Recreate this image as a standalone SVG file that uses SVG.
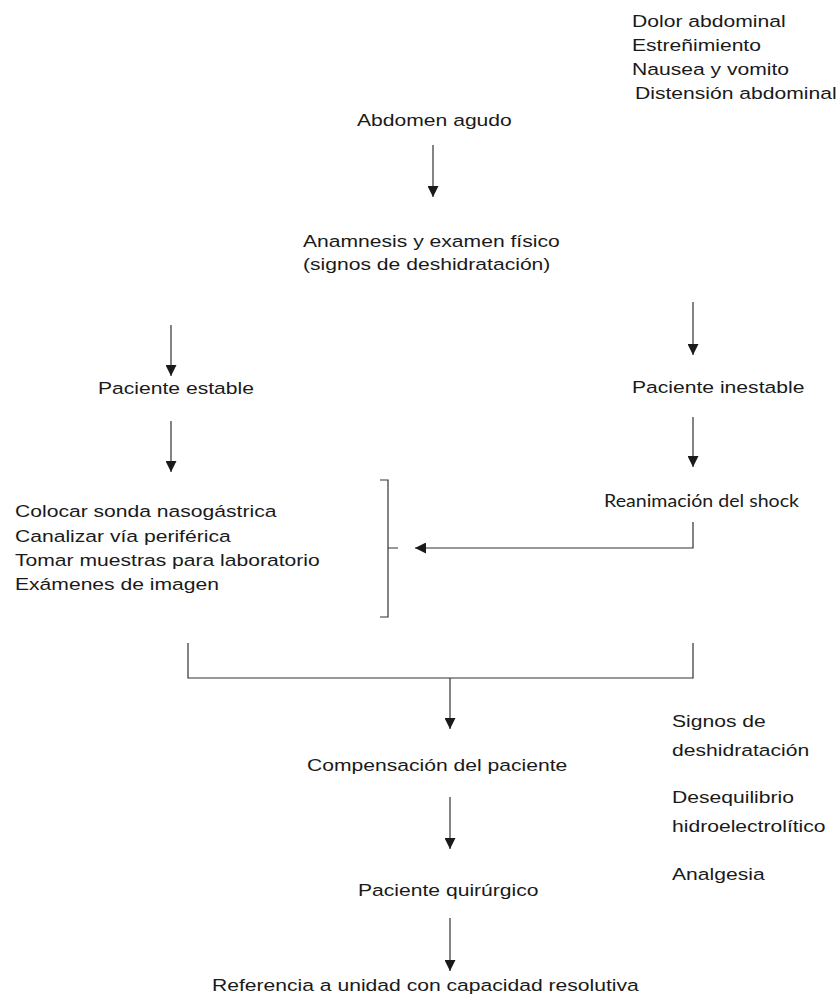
<svg xmlns="http://www.w3.org/2000/svg" width="837" height="1003" viewBox="0 0 837 1003">
  <style>
    .t { font-family: "Liberation Sans", Arial, sans-serif; font-size: 17.4px; fill: #1a1a1a; }
    .c { font-family: Lato, "Open Sans", sans-serif; font-size: 16.5px; fill: #1a1a1a; }
    .ln { fill: none; stroke: #333; stroke-width: 1.2; }
  </style>
  <defs>
    <marker id="arrow" viewBox="0 0 11 11" refX="11" refY="5.5" markerWidth="11" markerHeight="11" markerUnits="userSpaceOnUse" orient="auto">
      <path d="M0,0 L11,5.5 L0,11 z" fill="#1a1a1a"/>
    </marker>
  </defs>
  <rect width="837" height="1003" fill="#fff"/>

  <g id="sintomas">
    <text class="t" transform="matrix(1.213 0 0 1 632 27)">Dolor abdominal</text>
    <text class="t" transform="matrix(1.213 0 0 1 632 51)">Estreñimiento</text>
    <text class="t" transform="matrix(1.213 0 0 1 632 75)">Nausea y vomito</text>
    <text class="t" transform="matrix(1.213 0 0 1 635 99)">Distensión abdominal</text>
  </g>

  <g id="abdomen-agudo">
    <text class="t" transform="matrix(1.213 0 0 1 357 126)">Abdomen agudo</text>
  </g>

  <g id="anamnesis">
    <text class="t" transform="matrix(1.213 0 0 1 303 247)">Anamnesis y examen físico</text>
    <text class="t" transform="matrix(1.213 0 0 1 303 270)">(signos de deshidratación)</text>
  </g>

  <g id="paciente-estable">
    <text class="t" transform="matrix(1.213 0 0 1 98 394)">Paciente estable</text>
  </g>

  <g id="paciente-inestable">
    <text class="t" transform="matrix(1.213 0 0 1 632 393)">Paciente inestable</text>
  </g>

  <g id="reanimacion">
    <text class="c" x="604" y="507" textLength="195" lengthAdjust="spacingAndGlyphs">Reanimación del shock</text>
  </g>

  <g id="medidas">
    <text class="t" transform="matrix(1.213 0 0 1 15 517)">Colocar sonda nasogástrica</text>
    <text class="t" transform="matrix(1.213 0 0 1 15 541.5)">Canalizar vía periférica</text>
    <text class="t" transform="matrix(1.213 0 0 1 15 566)">Tomar muestras para laboratorio</text>
    <text class="t" transform="matrix(1.213 0 0 1 15 590)">Exámenes de imagen</text>
  </g>

  <g id="compensacion">
    <text class="t" transform="matrix(1.213 0 0 1 307 771)">Compensación del paciente</text>
  </g>

  <g id="objetivos">
    <text class="t" transform="matrix(1.213 0 0 1 672 727)">Signos de</text>
    <text class="t" transform="matrix(1.213 0 0 1 672 756)">deshidratación</text>
    <text class="t" transform="matrix(1.213 0 0 1 672 803)">Desequilibrio</text>
    <text class="t" transform="matrix(1.213 0 0 1 672 832)">hidroelectrolítico</text>
    <text class="t" transform="matrix(1.213 0 0 1 672 880)">Analgesia</text>
  </g>

  <g id="paciente-quirurgico">
    <text class="t" transform="matrix(1.213 0 0 1 358 896)">Paciente quirúrgico</text>
  </g>

  <g id="referencia">
    <text class="t" transform="matrix(1.213 0 0 1 212 991)">Referencia a unidad con capacidad resolutiva</text>
  </g>

  <g id="connectors">
    <path class="ln" d="M433,145 V197" marker-end="url(#arrow)"/>
    <path class="ln" d="M171,325 V376" marker-end="url(#arrow)"/>
    <path class="ln" d="M693,302 V355" marker-end="url(#arrow)"/>
    <path class="ln" d="M171,421 V472" marker-end="url(#arrow)"/>
    <path class="ln" d="M693,417 V467" marker-end="url(#arrow)"/>
    <path class="ln" d="M693,522 V548 H415" marker-end="url(#arrow)"/>
    <!-- bracket grouping the initial measures -->
    <path class="ln" d="M380,480 H388 V617 H380 M388,548 H398"/>
    <!-- merge of both branches -->
    <path class="ln" d="M188,643 V678 H693 V643"/>
    <path class="ln" d="M450,678 V729" marker-end="url(#arrow)"/>
    <path class="ln" d="M450,797 V849" marker-end="url(#arrow)"/>
    <path class="ln" d="M450,918 V971" marker-end="url(#arrow)"/>
  </g>
</svg>
